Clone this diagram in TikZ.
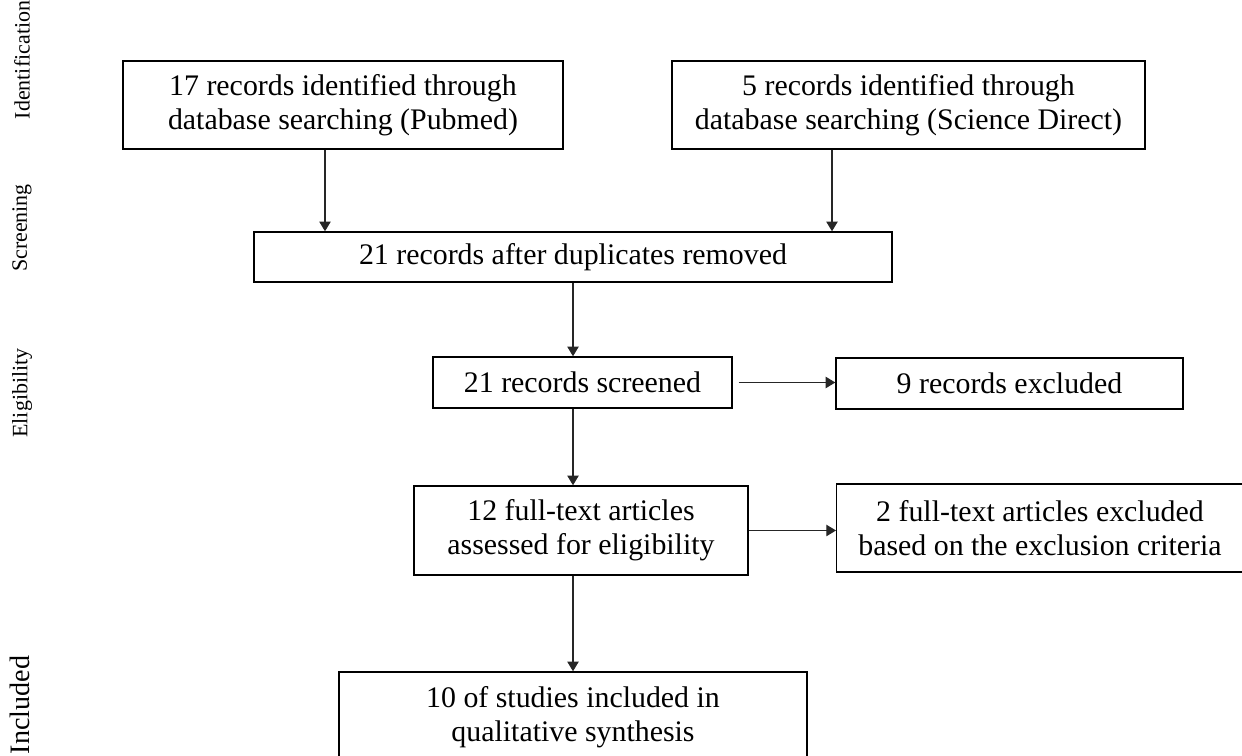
\documentclass[tikz,border=0pt]{standalone}
\usepackage{fontspec}
\setmainfont{Liberation Serif}
\usetikzlibrary{arrows.meta}

\begin{document}
\begin{tikzpicture}[x=0.02cm,y=-0.02cm,>={Triangle[length=5.5pt,width=6.5pt]},
  box/.style={draw,line width=0.85pt,align=center,inner sep=0pt,
    font=\fontsize{17}{19.5}\selectfont},
  phase/.style={rotate=90,font=\fontsize{12.5}{14}\selectfont},
  link/.style={->,line width=0.6pt,draw=black!85}]
  \useasboundingbox (0,0) rectangle (1242,756);
  \clip (0,0) rectangle (1242,756);
  % stage names down the left side
  \node[phase] (idn) at (22,60) {Identification};
  \node[phase] (scr) at (22,228) {Screening};
  \node[phase] (elg) at (22,393) {Eligibility};
  \node[phase,font=\fontsize{16}{18}\selectfont] (inc) at (20,705) {Included};
  % boxes
  \node[box,minimum width=8.8cm,minimum height=1.76cm] (pub) at (343,105)
    {17 records identified through\\database searching (Pubmed)};
  \node[box,minimum width=9.46cm,minimum height=1.76cm] (sci) at (908.5,105)
    {5 records identified through\\database searching (Science Direct)};
  \node[box,minimum width=12.76cm,minimum height=1cm] (dup) at (573,257)
    {21 records after duplicates removed};
  \node[box,minimum width=5.98cm,minimum height=1.02cm] (scrn) at (582.5,382.5)
    {21 records screened};
  \node[box,minimum width=6.94cm,minimum height=1.02cm] (excl) at (1009.5,383.5)
    {9 records excluded};
  \node[box,minimum width=6.68cm,minimum height=1.78cm] (full) at (581,530.5)
    {12 full-text articles\\assessed for eligibility};
  \node[box,minimum width=8.6cm,minimum height=1.76cm,anchor=west] (fexc) at (836,528) {};
  \node[align=center,inner sep=0pt,font=\fontsize{17}{19.5}\selectfont] (fexct) at (1040,528)
    {2 full-text articles excluded\\based on the exclusion criteria};
  \node[box,minimum width=9.36cm,minimum height=1.8cm] (qual) at (573,717)
    {10 of studies included in\\qualitative synthesis};
  % arrows
  \coordinate (pa) at (325,0);
  \coordinate (pb) at (832,0);
  \draw[link] (pub.south -| pa) -- (dup.north -| pa);
  \draw[link] (sci.south -| pb) -- (dup.north -| pb);
  \draw[link] (dup.south) -- (dup.south |- scrn.north);
  \draw[link,shorten <=6*0.02cm] (scrn.east) -- (scrn.east -| excl.west);
  \draw[link] (dup.south |- scrn.south) -- (dup.south |- full.north);
  \draw[link] (full.east) -- (full.east -| fexc.west);
  \draw[link] (dup.south |- full.south) -- (qual.north);
\end{tikzpicture}
\end{document}
